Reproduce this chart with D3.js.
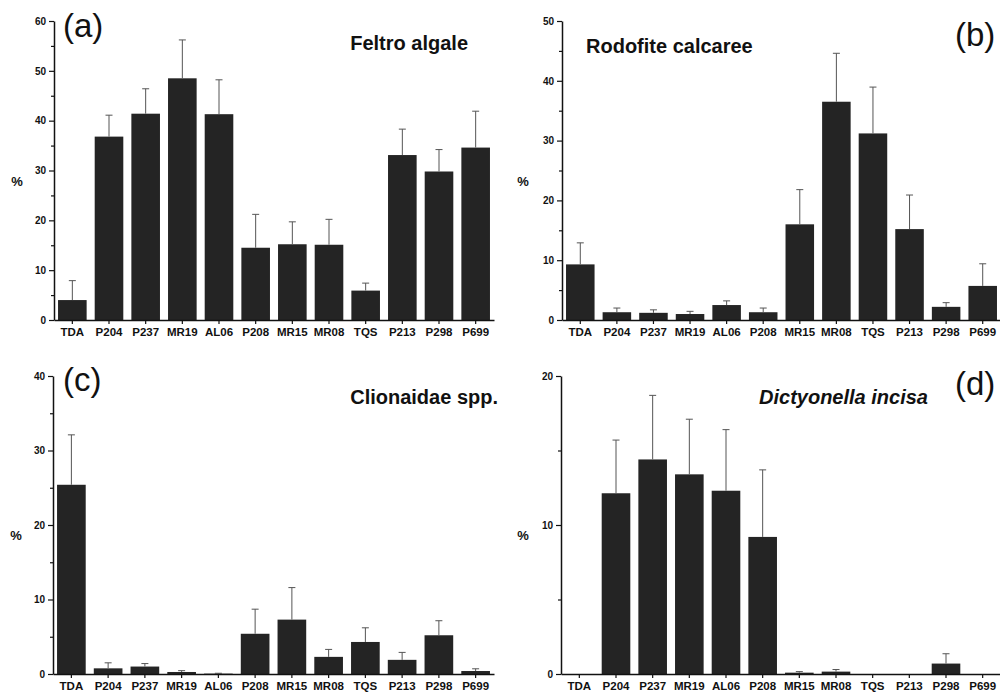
<!DOCTYPE html>
<html>
<head>
<meta charset="utf-8">
<script src="https://cdn.jsdelivr.net/npm/d3@7"></script>
<style>
  body { margin: 0; background: #fff; }
  svg { display: block; font-family: "Liberation Sans", Arial, sans-serif; }
</style>
</head>
<body>
<script>
var width = 1000,
    height = 694;

// sites along the x axis (same for every panel)
var sites = ["TDA", "P204", "P237", "MR19", "AL06", "P208", "MR15", "MR08", "TQS", "P213", "P298", "P699"];

// (a) Feltro algale
var feltroMean = [4.0, 36.8, 41.4, 48.5, 41.3, 14.5, 15.2, 15.1, 5.9, 33.1, 29.8, 34.6];
var feltroTop  = [7.9, 41.1, 46.4, 56.2, 48.2, 21.2, 19.7, 20.2, 7.4, 38.3, 34.2, 41.9];

// (b) Rodofite calcaree
var rodoMean = [9.3, 1.3, 1.2, 1.0, 2.5, 1.3, 16.0, 36.5, 31.2, 15.2, 2.2, 5.7];
var rodoTop  = [12.9, 2.0, 1.7, 1.45, 3.2, 2.0, 21.8, 44.6, 38.95, 20.9, 2.9, 9.4];

// (c) Clionaidae spp.
var clioMean = [25.4, 0.76, 1.0, 0.27, 0.05, 5.4, 7.3, 2.3, 4.3, 1.9, 5.2, 0.4];
var clioTop  = [32.1, 1.5, 1.4, 0.45, 0.1, 8.7, 11.6, 3.3, 6.2, 2.9, 7.15, 0.7];

// (d) Dictyonella incisa
var dictMean = [0, 12.13, 14.4, 13.4, 12.3, 9.2, 0.09, 0.16, 0, 0, 0.7, 0];
var dictTop  = [0, 15.7, 18.7, 17.1, 16.4, 13.7, 0.16, 0.3, 0, 0, 1.36, 0];

var titles = ["Feltro algale", "Rodofite calcaree", "Clionaidae spp.", "Dictyonella incisa"];
var letters = ["(a)", "(b)", "(c)", "(d)"];
var yMax = [60, 50, 40, 20];
var yMajor = [10, 10, 10, 10];

// layout of each panel (pixels)
var panels = [
  {mean: feltroMean, top: feltroTop, x0: 54,  x1: 494,  y0: 21,  y1: 320,
   title: {x: 468, y: 50, anchor: "end", italic: false}, letter: {x: 63, y: 37}, pct: {x: 17, y: 183}},
  {mean: rodoMean,   top: rodoTop,   x0: 562, x1: 1001, y0: 21,  y1: 320,
   title: {x: 586, y: 53, anchor: "start", italic: false}, letter: {x: 955, y: 46}, pct: {x: 523, y: 183}},
  {mean: clioMean,   top: clioTop,   x0: 53,  x1: 494,  y0: 376, y1: 674,
   title: {x: 498, y: 404, anchor: "end", italic: false}, letter: {x: 63, y: 391}, pct: {x: 16, y: 537}},
  {mean: dictMean,   top: dictTop,   x0: 561, x1: 1001, y0: 376, y1: 674,
   title: {x: 928, y: 404, anchor: "end", italic: true}, letter: {x: 955, y: 395}, pct: {x: 523, y: 537}}
];

var svg = d3.select("body").append("svg")
    .attr("width", width)
    .attr("height", height);

panels.forEach(function(p, k) {
  var x = d3.scaleBand()
      .domain(sites)
      .range([p.x0, p.x1])
      .paddingInner(0.22)
      .paddingOuter(0.11);

  var y = d3.scaleLinear()
      .domain([0, yMax[k]])
      .range([p.y1, p.y0]);

  var rows = sites.map(function(s, i) {
    return {site: s, mean: p.mean[i], top: p.top[i]};
  });

  var g = svg.append("g");

  // bars
  g.selectAll(".bar")
      .data(rows)
      .enter().append("rect")
      .attr("class", "bar")
      .attr("x", function(d) { return x(d.site); })
      .attr("width", x.bandwidth())
      .attr("y", function(d) { return y(d.mean); })
      .attr("height", function(d) { return p.y1 - y(d.mean); })
      .style("fill", "#242424");

  // error bars (upper only)
  var err = g.selectAll(".err")
      .data(rows.filter(function(d) { return d.top > d.mean; }))
      .enter().append("g")
      .attr("class", "err")
      .attr("transform", function(d) { return "translate(" + (x(d.site) + x.bandwidth() / 2) + ",0)"; });

  err.append("line")
      .attr("x1", 0)
      .attr("x2", 0)
      .attr("y1", function(d) { return y(d.mean); })
      .attr("y2", function(d) { return y(d.top); })
      .style("stroke", "#555")
      .style("stroke-width", 1);

  err.append("line")
      .attr("x1", -3.5)
      .attr("x2", 3.5)
      .attr("y1", function(d) { return y(d.top); })
      .attr("y2", function(d) { return y(d.top); })
      .style("stroke", "#555")
      .style("stroke-width", 1);

  // y axis: major ticks + minor ticks in between
  var majors = d3.range(0, yMax[k] + 0.001, yMajor[k]);
  var minors = d3.range(yMajor[k] / 2, yMax[k], yMajor[k]);

  var yAxis = g.append("g")
      .attr("transform", "translate(" + p.x0 + ",0)")
      .call(d3.axisLeft(y).tickValues(majors).tickSize(5).tickSizeOuter(0).tickPadding(3));
  g.append("g")
      .attr("transform", "translate(" + p.x0 + ",0)")
      .call(d3.axisLeft(y).tickValues(minors).tickSize(3).tickFormat(""))
      .select(".domain").remove();

  // x axis
  var xAxis = g.append("g")
      .attr("transform", "translate(0," + p.y1 + ")")
      .call(d3.axisBottom(x).tickSize(4).tickSizeOuter(0).tickPadding(4));

  g.selectAll(".domain")
      .style("stroke", "#111")
      .style("stroke-width", 1.5);
  g.selectAll(".tick line")
      .style("stroke", "#111")
      .style("stroke-width", 1.2);
  yAxis.selectAll("text")
      .style("font-size", "10px")
      .style("font-weight", "bold")
      .style("fill", "#111");
  xAxis.selectAll("text")
      .style("font-size", "11.5px")
      .style("font-weight", "bold")
      .style("fill", "#111");

  // "%" axis label
  g.append("text")
      .attr("x", p.pct.x)
      .attr("y", p.pct.y)
      .attr("text-anchor", "middle")
      .attr("dominant-baseline", "middle")
      .style("font-size", "13px")
      .style("font-weight", "bold")
      .style("fill", "#111")
      .text("%");

  // title
  g.append("text")
      .attr("x", p.title.x)
      .attr("y", p.title.y)
      .attr("text-anchor", p.title.anchor)
      .style("font-size", "20px")
      .style("font-weight", "bold")
      .style("font-style", p.title.italic ? "italic" : "normal")
      .style("fill", "#111")
      .text(titles[k]);

  // panel letter
  g.append("text")
      .attr("x", p.letter.x)
      .attr("y", p.letter.y)
      .style("font-size", "33px")
      .style("fill", "#111")
      .text(letters[k]);
});
</script>
</body>
</html>
